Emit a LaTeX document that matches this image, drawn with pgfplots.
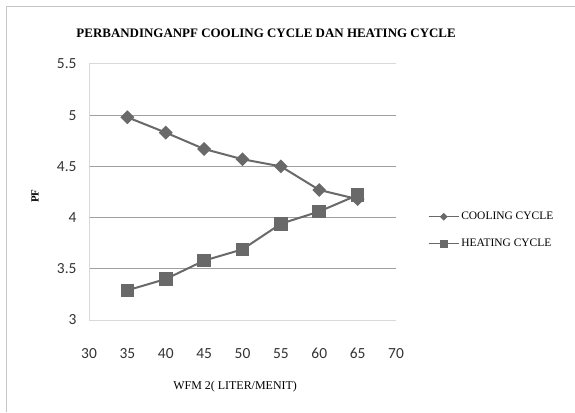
\documentclass[border=0pt]{standalone}
\usepackage{fontspec}
\setmainfont{Liberation Serif}
\newfontfamily\tickfont{Carlito}
\usepackage{pgfplots}
\pgfplotsset{compat=1.18}
\definecolor{ser}{RGB}{105,105,105}
\begin{document}
\begin{tikzpicture}[x=1bp,y=1bp]
\useasboundingbox (0,0) rectangle (575,412);
\draw[gray!45, line width=1bp] (6.5,0) -- (6.5,405.5) -- (575,405.5);
\begin{axis}[
  at={(89bp,92bp)}, anchor=south west,
  scale only axis, width=307bp, height=256bp,
  xmin=30, xmax=70, ymin=3, ymax=5.5,
  xtick={30,35,...,70},
  ytick={3.5,4,4.5,5},
  extra y ticks={3,5.5},
  extra y tick style={grid style={gray!30, line width=1bp}},
  ymajorgrids, grid style={gray!75, line width=1bp},
  axis x line*=bottom, axis y line*=left,
  axis line style={gray!30, line width=1bp, -},
  tick style={draw=none},
  /pgf/number format/assume math mode=true,
  ticklabel style={font=\tickfont\fontsize{15.5}{17}\selectfont, text=black!80},
  yticklabel style={xshift=-9bp},
  xticklabel style={yshift=-25bp},
  title={\textbf{PERBANDINGANPF COOLING CYCLE DAN HEATING CYCLE}},
  title style={at={(axis description cs:0.577,1.095)}, anchor=center, font=\fontsize{13}{15}\selectfont},
  xlabel={WFM 2( LITER/MENIT)},
  xlabel style={at={(axis description cs:0.476,-0.262)}, anchor=center, font=\fontsize{12}{14}\selectfont},
  ylabel={\textbf{PF}},
  ylabel style={at={(axis description cs:-0.176,0.484)}, anchor=center, rotate=0, font=\fontsize{11}{13}\selectfont},
  legend style={at={(axis description cs:1.104,0.43)}, anchor=north west, draw=none, fill=none,
    font=\fontsize{11.5}{13}\selectfont, row sep=14bp, inner sep=0pt},
  legend cell align=left,
  legend image code/.code={\draw[#1, line width=1.2bp, every mark/.append style={scale=0.55}, mark repeat=2, mark phase=2] plot coordinates {(0bp,0bp) (15bp,0bp) (30bp,0bp)};},
]
\addplot[ser, line width=2bp, mark=square*, mark size=3.9bp, mark options={rotate=45, fill=ser, draw=ser}]
  coordinates {(35,4.98) (40,4.83) (45,4.67) (50,4.57) (55,4.50) (60,4.27) (65,4.18)};
\addlegendentry{COOLING CYCLE}
\addplot[ser, line width=2bp, mark=square*, mark size=5.8bp, mark options={fill=ser, draw=ser}]
  coordinates {(35,3.29) (40,3.40) (45,3.58) (50,3.69) (55,3.94) (60,4.06) (65,4.22)};
\addlegendentry{HEATING CYCLE}
\end{axis}
\end{tikzpicture}
\end{document}
